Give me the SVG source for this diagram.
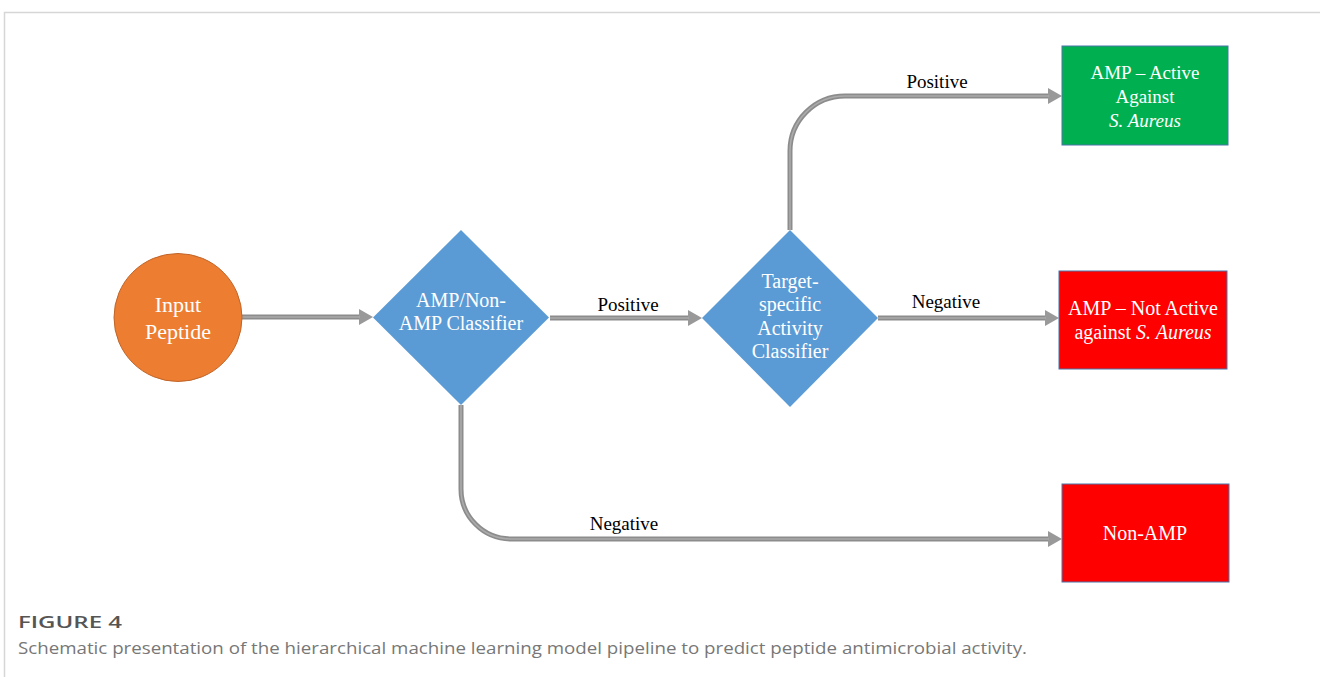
<svg xmlns="http://www.w3.org/2000/svg" width="1320" height="677" viewBox="0 0 1320 677">
<defs>
<style>
.node-text{font-family:"Liberation Serif","Times New Roman",serif;fill:#ffffff;text-anchor:middle}
.lbl{font-family:"Liberation Serif","Times New Roman",serif;fill:#000000;font-size:19px;text-anchor:middle}
.conn-outer{fill:none;stroke:#8c8c8c;stroke-width:5}
.conn-inner{fill:none;stroke:#ababab;stroke-width:1.6}
.box{stroke:#4a74a8;stroke-width:1}
.cap{font-family:"Open Sans","Liberation Sans",sans-serif}
</style>
<marker id="ah" viewBox="0 0 14 16" markerWidth="14" markerHeight="16" refX="1" refY="8" orient="auto" markerUnits="userSpaceOnUse">
<path d="M0,0 L14,8 L0,16 z" fill="#999999"/>
</marker>
</defs>
<rect x="0" y="0" width="1320" height="677" fill="#ffffff"/>
<path d="M4.5,677 V12.5 H1320" fill="none" stroke="#d6d6d6" stroke-width="1.5"/>

<g id="connectors">
<path class="conn-outer" d="M242,317 H360" marker-end="url(#ah)"/>
<path class="conn-inner" d="M242,317 H360"/>
<path class="conn-outer" d="M550,318 H689" marker-end="url(#ah)"/>
<path class="conn-inner" d="M550,318 H689"/>
<path class="conn-outer" d="M878,318 H1046" marker-end="url(#ah)"/>
<path class="conn-inner" d="M878,318 H1046"/>
<path class="conn-outer" d="M790,230 V151 A55,55 0 0 1 845,96 H1049" marker-end="url(#ah)"/>
<path class="conn-inner" d="M790,230 V151 A55,55 0 0 1 845,96 H1049"/>
<path class="conn-outer" d="M461,405 V489 A50,50 0 0 0 511,539 H1049" marker-end="url(#ah)"/>
<path class="conn-inner" d="M461,405 V489 A50,50 0 0 0 511,539 H1049"/>
<text class="lbl" x="628" y="311">Positive</text>
<text class="lbl" x="937" y="88">Positive</text>
<text class="lbl" x="946" y="308">Negative</text>
<text class="lbl" x="624" y="530">Negative</text>
</g>

<g id="input-peptide">
<circle cx="178" cy="317.5" r="64" fill="#ed7d31" stroke="#c0652a" stroke-width="1"/>
<text class="node-text" x="178" y="312" font-size="22">Input</text>
<text class="node-text" x="178" y="339" font-size="22">Peptide</text>
</g>

<g id="amp-classifier">
<polygon points="461,230 549,317.5 461,405 373,317.5" fill="#5b9bd5"/>
<text class="node-text" x="461" y="307" font-size="20">AMP/Non-</text>
<text class="node-text" x="461" y="330" font-size="20">AMP Classifier</text>
</g>

<g id="target-classifier">
<polygon points="790,230 878,318 790,407 702,318" fill="#5b9bd5"/>
<text class="node-text" x="790" y="288" font-size="20">Target-</text>
<text class="node-text" x="790" y="311" font-size="20">specific</text>
<text class="node-text" x="790" y="335" font-size="20">Activity</text>
<text class="node-text" x="790" y="358" font-size="20">Classifier</text>
</g>

<g id="amp-active">
<rect class="box" x="1062" y="46" width="166" height="99" fill="#00b050"/>
<text class="node-text" x="1145" y="79" font-size="19">AMP – Active</text>
<text class="node-text" x="1145" y="103" font-size="19">Against</text>
<text class="node-text" x="1145" y="127" font-size="19" font-style="italic">S. Aureus</text>
</g>

<g id="amp-not-active">
<rect class="box" x="1059" y="271" width="168" height="98" fill="#ff0000"/>
<text class="node-text" x="1143" y="315" font-size="20">AMP – Not Active</text>
<text class="node-text" x="1143" y="339" font-size="20">against <tspan font-style="italic">S. Aureus</tspan></text>
</g>

<g id="non-amp">
<rect class="box" x="1062" y="484" width="167" height="98" fill="#ff0000"/>
<text class="node-text" x="1145" y="540" font-size="20">Non-AMP</text>
</g>

<g id="caption">
<text class="cap" x="18" y="628" font-size="17" font-weight="600" fill="#555555" textLength="104" lengthAdjust="spacingAndGlyphs">FIGURE 4</text>
<text class="cap" x="18" y="654" font-size="16" fill="#777777" textLength="1009" lengthAdjust="spacingAndGlyphs">Schematic presentation of the hierarchical machine learning model pipeline to predict peptide antimicrobial activity.</text>
</g>
</svg>
